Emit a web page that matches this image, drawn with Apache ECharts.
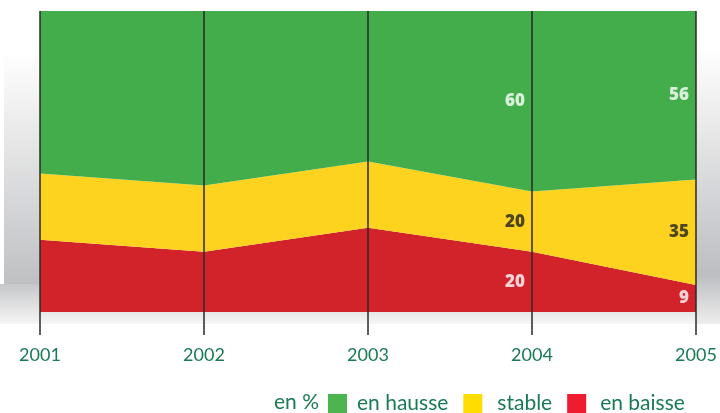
<!DOCTYPE html>
<html>
<head>
<meta charset="utf-8">
<script src="https://cdn.jsdelivr.net/npm/echarts@6/dist/echarts.min.js"></script>
<style>
  html, body { margin: 0; padding: 0; background: #fff; }
  #chart { width: 720px; height: 413px; }
</style>
</head>
<body>
<div id="chart"></div>
<script>
const years = ['2001', '2002', '2003', '2004', '2005']
const enBaisse = [24, 20, 28, 20, 9]
const stable = [22, 22, 22, 20, 35]
const enHausse = [54, 58, 50, 60, 56]
const labelledYears = ['2004', '2005']

const areaColors = { baisse: '#d2232a', stable: '#fdd31f', hausse: '#43ad4b' }
const legendColors = { baisse: '#ed1c2e', stable: '#ffdd00', hausse: '#4cb550' }
const textGreen = '#1b7a56'

// label points sit in the middle of each band
const midLabels = (values, below, color) => ({
  type: 'scatter',
  symbolSize: 0,
  silent: true,
  z: 10,
  data: labelledYears.map(y => {
    const i = years.indexOf(y)
    const base = below.reduce((s, arr) => s + arr[i], 0)
    return { value: [y, base + values[i] / 2], v: values[i] }
  }),
  label: {
    show: true, position: 'left', distance: 7,
    formatter: p => p.data.v,
    color, fontFamily: 'Open Sans', fontWeight: 800, fontSize: 17
  }
})

const area = (name, values, key) => ({
  name,
  type: 'line',
  stack: 'total',
  data: values,
  showSymbol: false,
  lineStyle: { width: 0 },
  itemStyle: { color: legendColors[key] },
  areaStyle: { color: areaColors[key], opacity: 1 },
  z: 2
})

const grad = stops => new echarts.graphic.LinearGradient(0, 0, 0, 1,
  stops.map(([offset, color]) => ({ offset, color })))

const chart = echarts.init(document.getElementById('chart'))

chart.setOption({
  animation: false,
  grid: { left: 40, right: 24, top: 11, bottom: 101 },
  graphic: [
    {
      type: 'rect', z: -5, silent: true,
      shape: { x: 4, y: 52, width: 36, height: 232 },
      style: { fill: grad([[0, '#ffffff'], [1, '#bfc0c2']]) }
    },
    {
      type: 'rect', z: -5, silent: true,
      shape: { x: 0, y: 284, width: 40, height: 40 },
      style: { fill: grad([[0, '#c6c7c9'], [1, '#f6f6f6']]) }
    },
    {
      type: 'rect', z: -5, silent: true,
      shape: { x: 40, y: 311, width: 680, height: 13 },
      style: { fill: grad([[0, '#e6e6e7'], [1, '#f7f7f7']]) }
    },
    {
      type: 'rect', z: -5, silent: true,
      shape: { x: 696, y: 50, width: 24, height: 274 },
      style: { fill: grad([[0, '#ffffff'], [0.82, '#bdbec0'], [1, '#eeeeee']]) }
    },
    {
      type: 'text', x: 274, y: 402,
      style: { text: 'en %', fontFamily: 'Lato', fontSize: 21, fill: textGreen, verticalAlign: 'middle' }
    }
  ],
  legend: {
    left: 328, top: 393,
    padding: 0,
    itemWidth: 19, itemHeight: 19, itemGap: 15,
    icon: 'rect',
    textStyle: { fontFamily: 'Lato', fontSize: 21, lineHeight: 19, color: textGreen, padding: [0, 0, 0, 5] },
    data: [
      { name: 'en hausse', itemStyle: { color: legendColors.hausse } },
      { name: 'stable', itemStyle: { color: legendColors.stable }, textStyle: { padding: [0, 0, 0, 10] } },
      { name: 'en baisse', itemStyle: { color: legendColors.baisse }, textStyle: { padding: [0, 0, 0, 9] } }
    ]
  },
  xAxis: {
    type: 'category',
    data: years,
    boundaryGap: false,
    z: 5,
    axisLine: { show: false },
    axisTick: { show: true, length: 23, lineStyle: { color: '#2a2a2a', width: 1.5 } },
    splitLine: { show: true, lineStyle: { color: '#2a2a2a', width: 1.5 } },
    axisLabel: { margin: 34, fontFamily: 'Lato', fontSize: 18, color: textGreen }
  },
  yAxis: {
    type: 'value', min: 0, max: 100, show: false
  },
  series: [
    area('en baisse', enBaisse, 'baisse'),
    area('stable', stable, 'stable'),
    area('en hausse', enHausse, 'hausse'),
    midLabels(enBaisse, [], '#ffffff'),
    midLabels(stable, [enBaisse], '#222222'),
    midLabels(enHausse, [enBaisse, stable], '#ffffff')
  ]
})
</script>
</body>
</html>
